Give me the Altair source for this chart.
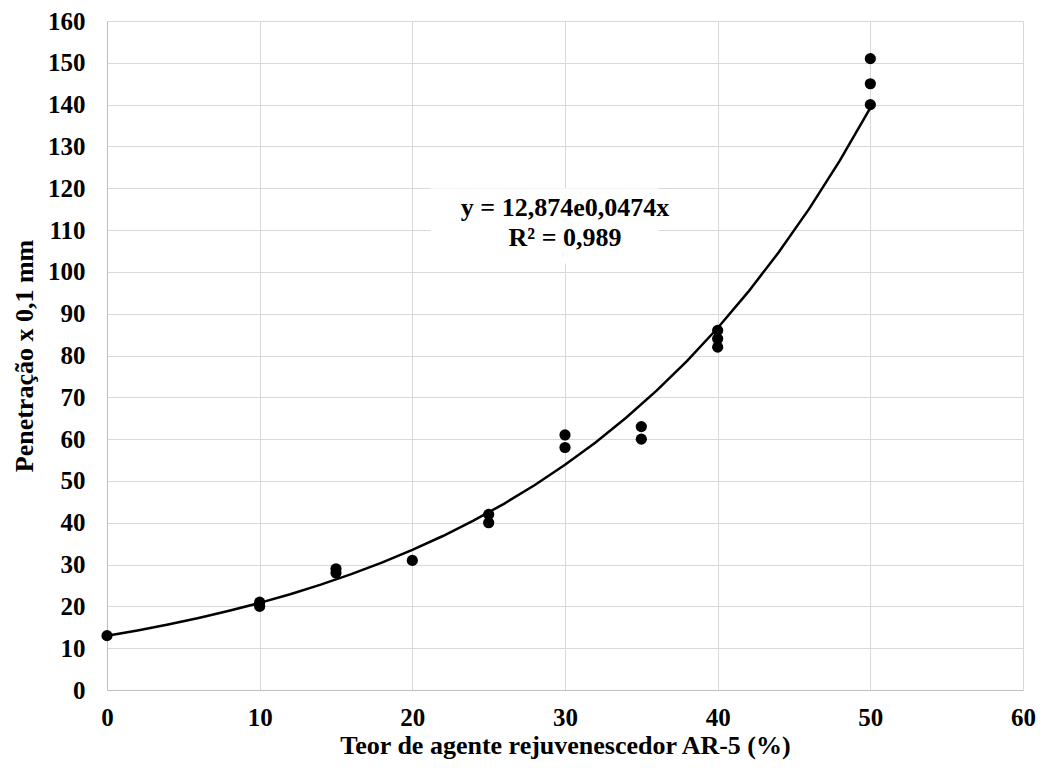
import altair as alt
import pandas as pd

teor = [0, 10, 10, 15, 15, 20, 25, 25, 30, 30, 35, 35, 40, 40, 40, 50, 50, 50]
pen = [13, 21, 20, 29, 28, 31, 42, 40, 61, 58, 63, 60, 86, 84, 82, 151, 145, 140]

eq_lines = ["y = 12,874e0,0474x", "R² = 0,989"]
eq_x = [30, 30]
eq_y = [115.2, 108.0]
box_x = [21.2]
box_x2 = [36.1]
box_y = [102]
box_y2 = [120]

df = pd.DataFrame({"x": teor, "y": pen})
eq = pd.DataFrame({"t": eq_lines, "x": eq_x, "y": eq_y})
box = pd.DataFrame({"x": box_x, "x2": box_x2, "y": box_y, "y2": box_y2})

font = "Liberation Serif"
xs = alt.Scale(domain=[0, 60], nice=False)
ys = alt.Scale(domain=[0, 160], nice=False)

base = alt.Chart(df)

points = base.mark_circle(size=125, color="black", opacity=1).encode(
    x=alt.X("x:Q", scale=xs,
            axis=alt.Axis(title="Teor de agente rejuvenescedor AR-5 (%)", values=[0, 10, 20, 30, 40, 50, 60],
                          grid=True, gridColor="#d9d9d9", ticks=False, domainColor="#bfbfbf",
                          labelFlush=False,
                          labelFont=font, labelFontSize=25, labelFontWeight="bold", labelColor="black",
                          labelPadding=15, titleFont=font, titleFontSize=26, titleFontWeight="bold",
                          titleColor="black", titlePadding=2)),
    y=alt.Y("y:Q", scale=ys,
            axis=alt.Axis(title="Penetração x 0,1 mm", values=list(range(0, 161, 10)),
                          grid=True, gridColor="#d9d9d9", ticks=False, domainColor="#bfbfbf",
                          labelFlush=False,
                          labelFont=font, labelFontSize=25, labelFontWeight="bold", labelColor="black",
                          labelPadding=22, titleFont=font, titleFontSize=26, titleFontWeight="bold",
                          titleColor="black", titlePadding=10)),
)

trend = base.transform_calculate(ly="log(datum.y)").transform_regression(
    "x", "ly", method="poly", order=1, extent=[0, 50]).transform_calculate(
    yfit="exp(datum.ly)").mark_line(color="black", strokeWidth=2.5).encode(
    x=alt.X("x:Q", scale=xs), y=alt.Y("yfit:Q", scale=ys))

boxm = alt.Chart(box).mark_rect(color="white").encode(
    x=alt.X("x:Q", scale=xs), x2="x2", y=alt.Y("y:Q", scale=ys), y2="y2")

text = alt.Chart(eq).mark_text(font=font, fontSize=26, fontWeight="bold", color="black").encode(
    x=alt.X("x:Q", scale=xs), y=alt.Y("y:Q", scale=ys), text="t:N")

chart = alt.layer(trend, points, boxm, text).properties(
    width=916, height=669,
    autosize=alt.AutoSizeParams(type="none"),
    padding={"left": 99, "top": 13, "right": 14, "bottom": 70},
).configure_view(stroke=None).configure(background="white")

chart.save("out.html", embed_options={"renderer": "svg", "actions": False})
